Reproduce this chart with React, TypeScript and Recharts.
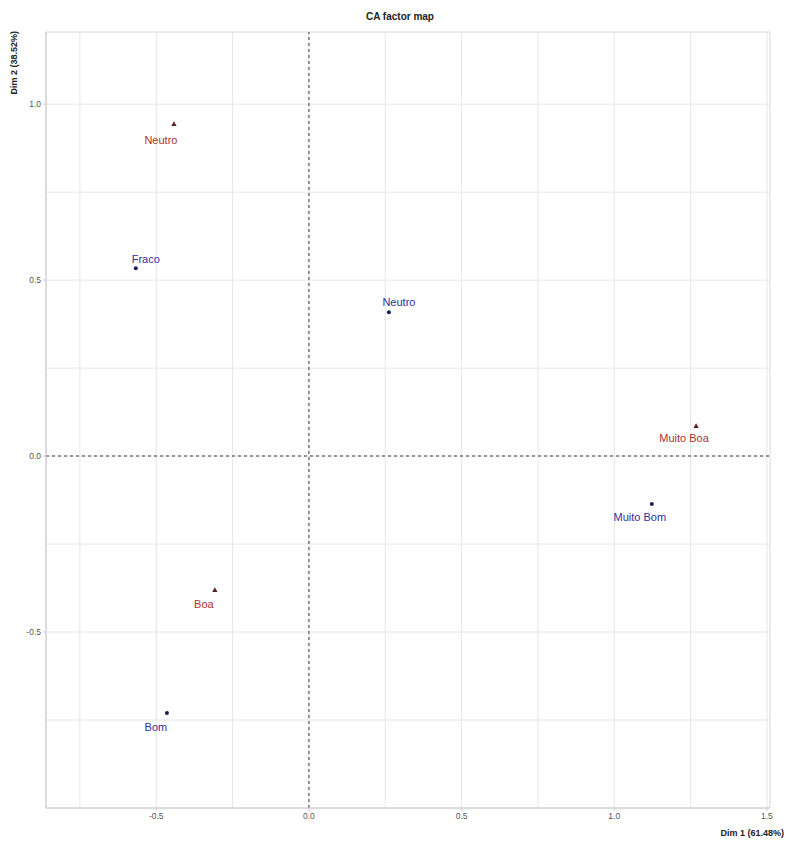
import { ScatterChart, Scatter, XAxis, YAxis, CartesianGrid, ReferenceLine, ReferenceArea, Label } from "recharts"

// row points (blue dots)
const rowNames = ["Fraco", "Neutro", "Muito Bom", "Bom"]
const rowDim1 = [-0.567, 0.262, 1.123, -0.465]
const rowDim2 = [0.534, 0.409, -0.136, -0.73]

// column points (red triangles)
const colNames = ["Neutro", "Muito Boa", "Boa"]
const colDim1 = [-0.442, 1.268, -0.308]
const colDim2 = [0.943, 0.085, -0.381]

const xTicks = [-0.5, 0, 0.5, 1, 1.5]
const yTicks = [-0.5, 0, 0.5, 1]
const xGrid = [-0.75, -0.5, -0.25, 0, 0.25, 0.5, 0.75, 1, 1.25, 1.5]
const yGrid = [-0.75, -0.5, -0.25, 0, 0.25, 0.5, 0.75, 1]

const rows = rowNames.map((name, i) => ({ name, x: rowDim1[i], y: rowDim2[i] }))
const cols = colNames.map((name, i) => ({ name, x: colDim1[i], y: colDim2[i] }))

const FONT = "'Liberation Sans', Arial, sans-serif"
const BLUE = "#2e2e9e"
const RED = "#b03030"
const X_DOMAIN: [number, number] = [-0.861, 1.51]
const Y_DOMAIN: [number, number] = [-1.0, 1.205]

// label nudges, like ggrepel placed them
const rowLabelOffset: Record<string, [number, number]> = {
  Fraco: [10, -9],
  Neutro: [10, -10],
  "Muito Bom": [-12, 13],
  Bom: [-11, 14],
}
const colLabelOffset: Record<string, [number, number]> = {
  Neutro: [-13, 16],
  "Muito Boa": [-12, 12],
  Boa: [-11, 14],
}

function RowPoint(props: any) {
  const { cx, cy, payload } = props
  const [dx, dy] = rowLabelOffset[payload.name] || [0, -10]
  return (
    <g>
      <circle cx={cx} cy={cy} r={2} fill="#1c1c5c" />
      <text x={cx + dx} y={cy + dy} dy="0.35em" textAnchor="middle" fontSize={11} fill={BLUE} fontFamily={FONT}>
        {payload.name}
      </text>
    </g>
  )
}

function ColPoint(props: any) {
  const { cx, cy, payload } = props
  const [dx, dy] = colLabelOffset[payload.name] || [0, 12]
  return (
    <g>
      <polygon points={`${cx},${cy - 3} ${cx - 2.6},${cy + 1.8} ${cx + 2.6},${cy + 1.8}`} fill="#5c1c1c" />
      <text x={cx + dx} y={cy + dy} dy="0.35em" textAnchor="middle" fontSize={11} fill={RED} fontFamily={FONT}>
        {payload.name}
      </text>
    </g>
  )
}

export default function App() {
  return (
    <div style={{ position: "absolute", left: 0, top: 0, width: 787, height: 843, background: "#fff" }}>
      <div
        style={{
          position: "absolute",
          top: 11,
          left: 0,
          width: 800,
          textAlign: "center",
          fontFamily: FONT,
          fontWeight: "bold",
          fontSize: 10,
          color: "#222",
        }}
      >
        CA factor map
      </div>
      <ScatterChart width={787} height={843} margin={{ top: 32, right: 17, bottom: 15, left: 10 }}>
        <CartesianGrid
          stroke="#e6e6e6"
          strokeWidth={1}
          horizontalValues={yGrid}
          verticalValues={xGrid}
        />
        <XAxis
          type="number"
          dataKey="x"
          domain={X_DOMAIN}
          ticks={xTicks}
          tickFormatter={(v) => v.toFixed(1)}
          allowDataOverflow
          height={20}
          axisLine={{ stroke: "#cccccc" }}
          tickLine={{ stroke: "#cccccc" }}
          tickSize={3}
          tick={{ fontSize: 8.5, fill: "#555", fontFamily: FONT }}
        >
          <Label
            content={() => (
              <text x={784} y={836} textAnchor="end" fontSize={9} fontWeight="bold" fill="#222" fontFamily={FONT}>
                Dim 1 (61.48%)
              </text>
            )}
          />
        </XAxis>
        <YAxis
          type="number"
          dataKey="y"
          domain={Y_DOMAIN}
          ticks={yTicks}
          tickFormatter={(v) => v.toFixed(1)}
          allowDataOverflow
          width={36}
          axisLine={{ stroke: "#cccccc" }}
          tickLine={{ stroke: "#cccccc" }}
          tickSize={3}
          tick={{ fontSize: 8.5, fill: "#555", fontFamily: FONT }}
        >
          <Label
            content={() => (
              <text
                x={17}
                y={31}
                transform="rotate(-90,17,31)"
                textAnchor="end"
                fontSize={9}
                fontWeight="bold"
                fill="#222"
                fontFamily={FONT}
              >
                Dim 2 (38.52%)
              </text>
            )}
          />
        </YAxis>
        <ReferenceArea
          x1={X_DOMAIN[0]}
          x2={X_DOMAIN[1]}
          y1={Y_DOMAIN[0]}
          y2={Y_DOMAIN[1]}
          fill="none"
          stroke="#d6d6d6"
          strokeWidth={1}
          ifOverflow="visible"
        />
        <ReferenceLine x={0} stroke="#777" strokeWidth={1.5} strokeDasharray="3 3" />
        <ReferenceLine y={0} stroke="#777" strokeWidth={1.5} strokeDasharray="3 3" />
        <Scatter data={rows} shape={RowPoint} isAnimationActive={false} />
        <Scatter data={cols} shape={ColPoint} isAnimationActive={false} />
      </ScatterChart>
    </div>
  )
}
